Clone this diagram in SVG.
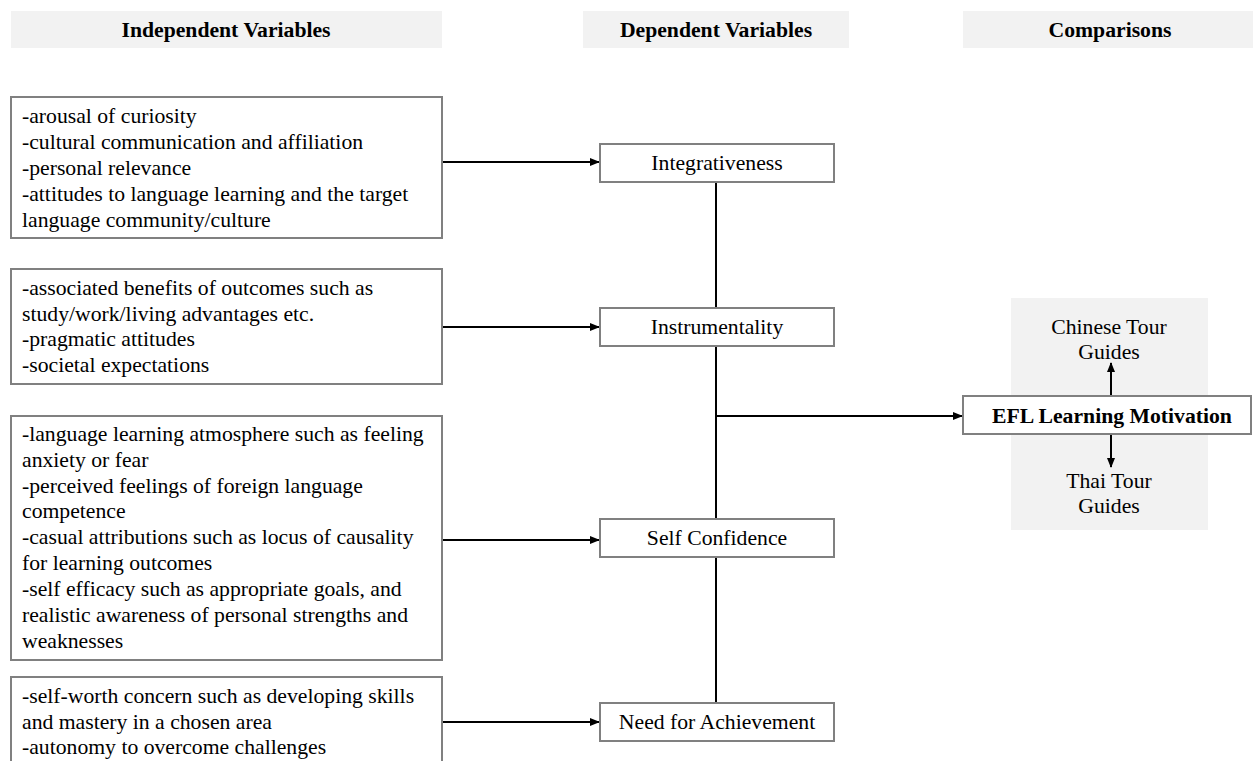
<svg xmlns="http://www.w3.org/2000/svg" width="1253" height="761" viewBox="0 0 1253 761">
<style>
.hdr{fill:#f2f2f2}
.hdrt{font-family:"Liberation Serif",serif;font-size:21.7px;font-weight:bold;fill:#000;text-anchor:middle}
.box{fill:#fff;stroke:#808080;stroke-width:2}
.t{font-family:"Liberation Serif",serif;font-size:21.7px;fill:#000}
.c{text-anchor:middle}
.b{font-weight:bold}
.ln{stroke:#000;stroke-width:2;fill:none}
.ar{stroke:#000;stroke-width:2;fill:none;marker-end:url(#ah)}
</style>
<defs>
<marker id="ah" markerWidth="10" markerHeight="8" refX="9" refY="4" orient="auto" markerUnits="userSpaceOnUse">
<path d="M0,0 L10,4 L0,8 Z" fill="#000"/>
</marker>
</defs>
<rect width="1253" height="761" fill="#fff"/>

<g id="headers">
<rect class="hdr" x="11" y="11" width="431" height="37"/>
<text class="hdrt" x="226" y="37">Independent Variables</text>
<rect class="hdr" x="583" y="11" width="266" height="37"/>
<text class="hdrt" x="716" y="37">Dependent Variables</text>
<rect class="hdr" x="963" y="11" width="290" height="37"/>
<text class="hdrt" x="1110" y="37">Comparisons</text>
</g>

<g id="panel">
<rect x="1011" y="298" width="197" height="232" fill="#f2f2f2"/>
</g>

<g id="connectors">
<line class="ar" x1="443" y1="162" x2="599" y2="162"/>
<line class="ar" x1="443" y1="327" x2="599" y2="327"/>
<line class="ar" x1="443" y1="540" x2="599" y2="540"/>
<line class="ar" x1="443" y1="722" x2="599" y2="722"/>
<line class="ln" x1="716" y1="182" x2="716" y2="703"/>
<line class="ar" x1="716" y1="416" x2="962" y2="416"/>
<line class="ar" x1="1111" y1="396" x2="1111" y2="363"/>
<line class="ar" x1="1111" y1="434" x2="1111" y2="467"/>
</g>

<g id="iv1">
<rect class="box" x="11" y="97" width="431" height="141"/>
<text class="t" x="22" y="123">-arousal of curiosity</text>
<text class="t" x="22" y="149">-cultural communication and affiliation</text>
<text class="t" x="22" y="175">-personal relevance</text>
<text class="t" x="22" y="201">-attitudes to language learning and the target</text>
<text class="t" x="22" y="227">language community/culture</text>
</g>

<g id="iv2">
<rect class="box" x="11" y="269" width="431" height="115"/>
<text class="t" x="22" y="295">-associated benefits of outcomes such as</text>
<text class="t" x="22" y="321">study/work/living advantages etc.</text>
<text class="t" x="22" y="346">-pragmatic attitudes</text>
<text class="t" x="22" y="372">-societal expectations</text>
</g>

<g id="iv3">
<rect class="box" x="11" y="416" width="431" height="244"/>
<text class="t" x="22" y="441">-language learning atmosphere such as feeling</text>
<text class="t" x="22" y="467">anxiety or fear</text>
<text class="t" x="22" y="493">-perceived feelings of foreign language</text>
<text class="t" x="22" y="518">competence</text>
<text class="t" x="22" y="544">-casual attributions such as locus of causality</text>
<text class="t" x="22" y="570">for learning outcomes</text>
<text class="t" x="22" y="596">-self efficacy such as appropriate goals, and</text>
<text class="t" x="22" y="622">realistic awareness of personal strengths and</text>
<text class="t" x="22" y="648">weaknesses</text>
</g>

<g id="iv4">
<rect class="box" x="11" y="677" width="431" height="100"/>
<text class="t" x="22" y="703">-self-worth concern such as developing skills</text>
<text class="t" x="22" y="729">and mastery in a chosen area</text>
<text class="t" x="22" y="754">-autonomy to overcome challenges</text>
</g>

<g id="integrativeness">
<rect class="box" x="600" y="144" width="234" height="38"/>
<text class="t c" x="717" y="170">Integrativeness</text>
</g>

<g id="instrumentality">
<rect class="box" x="600" y="308" width="234" height="38"/>
<text class="t c" x="717" y="334">Instrumentality</text>
</g>

<g id="selfconfidence">
<rect class="box" x="600" y="519" width="234" height="38"/>
<text class="t c" x="717" y="545">Self Confidence</text>
</g>

<g id="needachievement">
<rect class="box" x="600" y="703" width="234" height="38"/>
<text class="t c" x="717" y="729">Need for Achievement</text>
</g>

<g id="efl">
<rect class="box" x="963" y="396" width="288" height="38"/>
<text class="t c b" x="1112" y="423">EFL Learning Motivation</text>
</g>

<g id="chinese">
<text class="t c" x="1109" y="334">Chinese Tour</text>
<text class="t c" x="1109" y="359">Guides</text>
</g>

<g id="thai">
<text class="t c" x="1109" y="488">Thai Tour</text>
<text class="t c" x="1109" y="513">Guides</text>
</g>
</svg>
